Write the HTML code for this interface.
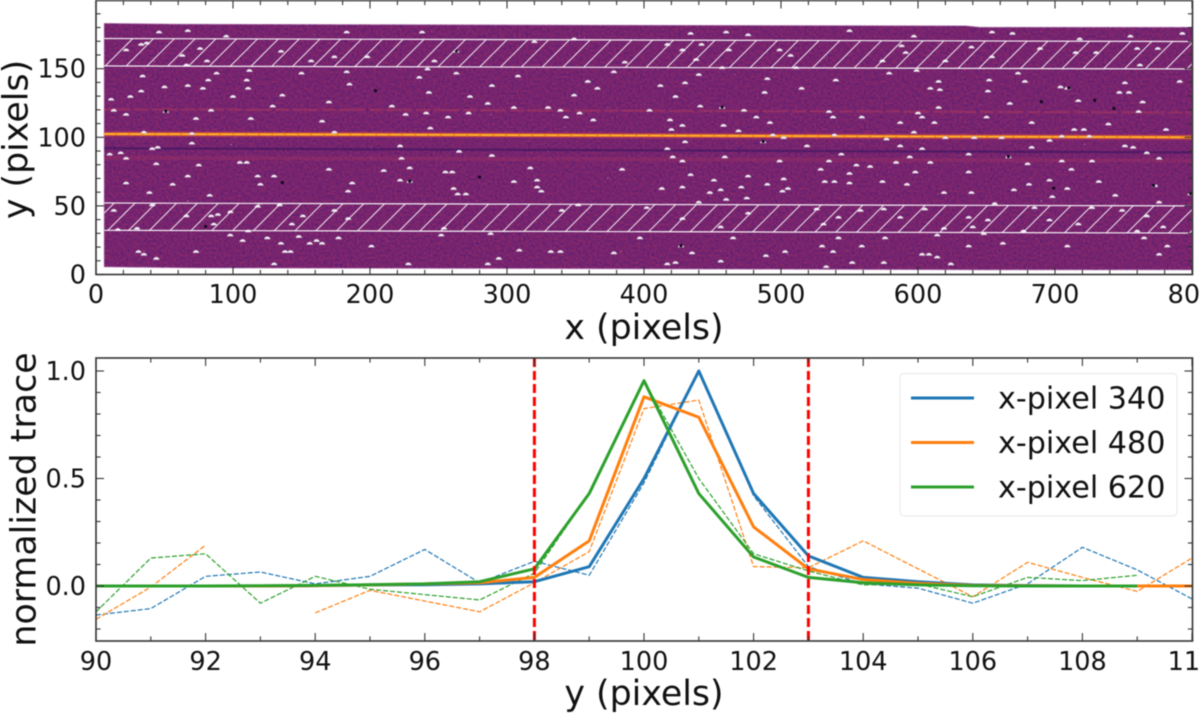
<!DOCTYPE html>
<html>
<head>
<meta charset="utf-8">
<title>Trace chart</title>
<style>
html,body{margin:0;padding:0;background:#fff;width:1200px;height:713px;overflow:hidden}
svg{display:block;filter:blur(0.4px)}
text{font-family:"DejaVu Sans","Liberation Sans",sans-serif;fill:#111}
</style>
</head>
<body>
<svg id="fig" width="1200" height="713" viewBox="0 0 1200 713" xmlns="http://www.w3.org/2000/svg">
  <defs>
    <clipPath id="clip-top"><rect x="96" y="0.5" width="1096.5" height="274"/></clipPath>
    <clipPath id="clip-bottom"><rect x="96" y="358" width="1096.5" height="282.7"/></clipPath>
    <filter id="grain-dark" x="0" y="0" width="100%" height="100%" color-interpolation-filters="sRGB">
      <feTurbulence type="fractalNoise" baseFrequency="0.42" numOctaves="1" seed="7"/>
      <feColorMatrix type="matrix" values="0 0 0 0 0.30  0 0 0 0 0.10  0 0 0 0 0.44  1.5 0 0 0 -0.52"/>
    </filter>
    <filter id="grain-light" x="0" y="0" width="100%" height="100%" color-interpolation-filters="sRGB">
      <feTurbulence type="fractalNoise" baseFrequency="0.42" numOctaves="1" seed="23"/>
      <feColorMatrix type="matrix" values="0 0 0 0 0.62  0 0 0 0 0.18  0 0 0 0 0.40  0 1.5 0 0 -0.55"/>
    </filter>
    <filter id="specks" x="0" y="0" width="100%" height="100%" color-interpolation-filters="sRGB">
      <feTurbulence type="fractalNoise" baseFrequency="0.3" numOctaves="1" seed="41"/>
      <feColorMatrix type="matrix" values="0 0 0 0 0.92  0 0 0 0 0.86  0 0 0 0 0.92  24 0 0 0 -19.2"/>
    </filter>
  </defs>
  <g id="image-panel"></g>
  <g id="trace-panel"></g>
</svg>
<script>
// ---------- top panel data (detector coordinates, pixels) ----------
const edgeX = [6, 60, 350, 635, 645, 800];
const edgeTop = [183, 182.4, 181.8, 181.2, 180.2, 180.2];
const edgeBottomX = [6, 70, 320, 645, 800];
const edgeBottom = [5.6, 4.8, 4.4, 3.4, 3.4];
const traceX = [6, 200, 400, 600, 800];
const traceY = [102.4, 102, 101.3, 100.6, 100];
const faintUpperY = [120.3, 120, 119.3, 118.7, 118];
const darkRowY = [92, 91.3, 90.5, 89.7, 89];
const faintLowerY = [85, 84.5, 84, 83.4, 83];
const bandX = [6, 800];
const upperBandTop = [172, 169.8];
const upperBandBottom = [152, 149.8];
const lowerBandTop = [52.1, 50];
const lowerBandBottom = [32.2, 30.2];
const spotsX = [46,67,95,33,22,37,76,63,81,66,135,157,174,198,34,50,33,25,11,112,88,82,110,150,183,185,67,78,111,100,136,129,170,13,22,51,84,73,113,165,216,35,174,70,10,18,22,41,45,70,44,75,105,110,223,67,118,130,170,210,22,56,120,187,39,83,184,13,66,41,84,89,98,118,134,151,174,184,143,86,16,30,111,98,148,177,107,125,135,156,161,165,201,138,142,31,35,44,73,130,183,
238,263,247,242,236,263,308,289,243,273,286,305,330,349,339,353,343,363,366,378,359,430,412,440,423,441,457,473,488,404,419,428,420,458,482,492,469,494,502,487,430,417,459,428,421,499,226,241,257,272,244,222,265,289,317,255,260,229,229,222,305,322,322,325,261,264,270,384,434,451,476,490,413,428,456,471,502,501,505,448,460,475,440,352,402,340,428,476,456,254,252,288,397,465,427,309,332,339,378,435,503,489,294,286,228,417,423,456,507,462,428,499,476,434,460,442,417,438,386,349,320,457,511,490,
550,597,654,669,718,755,793,689,639,654,715,730,760,775,588,591,574,620,762,599,579,540,615,652,673,678,515,609,616,651,704,709,751,747,754,791,717,667,764,615,535,538,559,600,603,650,761,587,597,612,683,714,721,739,781,539,577,620,641,661,705,725,696,751,757,683,603,587,519,594,535,544,584,609,637,666,680,705,727,767,776,529,555,565,598,637,712,532,539,550,550,574,592,681,696,709,732,773,619,639,670,744,698,776,799,656,727,526,575,587,558,531,542,605,637,651,685,696,749,767,779,760,717,677,640,619,614,648,542,576,530,559,538,603,608,637,662,765,782,776,709,575,552,533,614,624];
const spotsY = [177,178,174,168,164,169,165,160,156,153,163,156,159,159,145,137,134,130,128,149,147,142,142,147,148,139,138,136,136,130,131,123,126,120,117,119,120,114,114,112,123,104,104,103,88,89,85,92,93,96,81,80,82,82,85,72,72,72,77,76,67,66,66,67,60,58,61,47,43,51,43,44,46,50,51,43,47,41,37,37,33,34,32,29,28,27,25,27,23,23,25,23,21,17,17,17,15,12,17,8,177,
177,163,156,150,144,147,145,138,133,130,125,122,122,131,120,118,115,113,136,148,141,140,138,146,130,123,122,120,133,120,113,109,106,109,115,111,105,102,100,97,97,92,86,83,86,83,117,118,115,118,107,94,90,87,78,75,75,78,68,69,68,69,64,61,63,59,59,77,73,69,72,66,63,64,62,64,70,61,63,60,55,56,53,51,49,47,41,45,35,34,29,30,27,27,21,18,17,17,16,16,17,14,12,8,8,8,9,10,160,164,164,164,175,176,177,168,168,157,155,172,170,151,151,143,
178,174,177,176,172,174,176,165,166,159,162,162,165,165,167,162,156,156,153,149,147,142,141,142,147,141,136,136,135,134,137,136,140,133,133,141,127,125,126,122,119,115,115,118,115,115,119,111,104,111,111,106,106,110,106,102,99,100,100,100,101,101,98,94,93,93,92,94,94,86,83,88,82,82,88,86,81,83,83,89,85,77,80,79,75,75,77,68,68,67,74,68,66,66,69,63,68,65,60,60,62,58,57,53,59,52,49,48,48,42,47,37,42,48,42,40,49,40,47,43,35,32,37,32,35,34,29,30,27,27,21,21,17,15,15,21,23,27,21,15,21,9,9,6,13,8];
const darkSpotsX = [51,136,204,80,263,427,229,280,487,457,666,699,772,799,710,729,743,690];
const darkSpotsY = [119,67,134,35,163,21,68,71,97,122,86,63,65,59,136,127,121,126];
// ---------- top panel ticks ----------
const imgXTicks = [0,100,200,300,400,500,600,700,800];
const imgYTicks = [0,50,100,150];

// ---------- bottom panel data ----------
const yPixels = [90,91,92,93,94,95,96,97,98,99,100,101,102,103,104,105,106,107,108,109,110];
const blueModel = [0,0,0,0,0.002,0.005,0.006,0.01,0.02,0.09,0.5,1.0,0.43,0.14,0.04,0.02,0.005,0.002,0,0,0];
const orangeModel = [0,0,0,0,0.002,0.005,0.01,0.015,0.04,0.21,0.88,0.785,0.275,0.08,0.03,0.012,0.003,0.001,0,0,0];
const greenModel = [0,0,0,0.001,0.003,0.006,0.01,0.02,0.08,0.43,0.955,0.43,0.135,0.04,0.015,0.005,0.001,0,0,0,null];
const blueData = [-0.135,-0.105,0.045,0.065,0.01,0.045,0.17,0.015,0.115,0.05,0.48,1.0,0.42,0.09,0.01,-0.01,-0.08,0.01,0.18,0.075,-0.06];
const orangeData = [-0.155,-0.005,0.19,null,-0.125,-0.02,-0.07,-0.12,0.015,0.16,0.825,0.865,0.09,0.085,0.21,0.08,-0.05,0.11,0.04,-0.025,0.13];
const greenData = [-0.12,0.13,0.15,-0.08,0.045,-0.015,-0.04,-0.065,0.06,0.43,0.955,0.5,0.15,0.07,0.005,0.01,-0.05,0.04,0.025,0.05,null];
const apertureLines = [98,103];
const traceXTicks = [90,92,94,96,98,100,102,104,106,108,110];
const traceYTicks = [0,0.5,1];
const legendLabels = ["x-pixel 340","x-pixel 480","x-pixel 620"];
const seriesColors = ["#1f77b4","#ff7f0e","#2ca02c"];

// ---------- axis functions ----------
const imgXs = v => 96 + v * 1.37;
const imgYs = v => 274.5 - v * 1.372;
const trXs = v => 96 + (v - 90) * 54.8;
const trYs = v => 586 - v * 215;

const NS = "http://www.w3.org/2000/svg";
function mk(tag, attrs, parent) {
  const el = document.createElementNS(NS, tag);
  for (const k in attrs) el.setAttribute(k, attrs[k]);
  parent.appendChild(el);
  return el;
}
function pts(xs, ys, fx, fy) {
  return xs.map((x, i) => fx(x).toFixed(2) + "," + fy(ys[i]).toFixed(2)).join(" ");
}

// ---------- top panel ----------
const imgPanel = document.getElementById("image-panel");
const imgLayer = mk("g", {"clip-path": "url(#clip-top)"}, imgPanel);



const outline = edgeX.map((x, i) => imgXs(x).toFixed(1) + "," + imgYs(edgeTop[i]).toFixed(1))
  .concat(edgeBottomX.slice().reverse().map((x, i) => imgXs(x).toFixed(1) + "," + imgYs(edgeBottom[edgeBottom.length - 1 - i]).toFixed(1)))
  .join(" ");
const bg = mk("polygon", {points: outline, fill: "#762470", stroke: "#b47fb4", "stroke-width": 0.8}, imgLayer);


const clipOutline = mk("clipPath", {id: "clip-img"}, imgLayer);
mk("polygon", {points: outline}, clipOutline);
const texture = mk("g", {"clip-path": "url(#clip-img)"}, imgLayer);


mk("rect", {x: 96, y: 0, width: 1100, height: 275, filter: "url(#grain-dark)"}, texture);
mk("rect", {x: 96, y: 0, width: 1100, height: 275, filter: "url(#grain-light)"}, texture);

const faintA = mk("polyline", {points: pts(traceX, faintUpperY, imgXs, imgYs), fill: "none", stroke: "#b03a5c", "stroke-width": 2.4, "stroke-dasharray": "26 4 14 3", opacity: 0.5}, imgLayer);


const faintB = mk("polyline", {points: pts(traceX, faintLowerY, imgXs, imgYs), fill: "none", stroke: "#a83560", "stroke-width": 4, opacity: 0.32}, imgLayer);


const darkRow = mk("polyline", {points: pts(traceX, darkRowY, imgXs, imgYs), fill: "none", stroke: "#36145f", "stroke-width": 2.2, opacity: 0.6}, imgLayer);


const halo = mk("polyline", {points: pts(traceX, traceY, imgXs, imgYs), fill: "none", stroke: "#c8405a", "stroke-width": 5.5, opacity: 0.5}, imgLayer);


const traceLine = mk("polyline", {points: pts(traceX, traceY, imgXs, imgYs), fill: "none", stroke: "#f58a12", "stroke-width": 2.8}, imgLayer);


const traceCore = mk("polyline", {points: pts(traceX, traceY, imgXs, imgYs), fill: "none", stroke: "#fcc04a", "stroke-width": 1, "stroke-dasharray": "11 2"}, imgLayer);



const speckLayer = mk("rect", {x: 96, y: 0, width: 1100, height: 275, filter: "url(#specks)", "clip-path": "url(#clip-img)", opacity: 0.7}, imgLayer);



spotsX.forEach((x, i) => {
  if (spotsY[i] === undefined) return;
  const cx = imgXs(x), cy = imgYs(spotsY[i]);
  const p = mk("path", {d: `M${(cx-3).toFixed(1)} ${(cy+1.6).toFixed(1)}C${(cx-2.6).toFixed(1)} ${(cy-1.8).toFixed(1)} ${(cx+2.6).toFixed(1)} ${(cy-1.8).toFixed(1)} ${(cx+3).toFixed(1)} ${(cy+1.6).toFixed(1)}Z`, fill: "#f4eef3", stroke: "#b9a2bf", "stroke-width": 0.5}, imgLayer);
  
  
});
darkSpotsX.forEach((x, i) => {
  const d = mk("circle", {cx: imgXs(x), cy: imgYs(darkSpotsY[i]), r: 1.6, fill: "#14081f"}, imgLayer);
  
  
});

// hatched background bands
function drawBand(name, tops, bottoms, phase) {
  const g = mk("g", {}, imgLayer);
  
  
  const cid = "clip-" + name;
  const cp = mk("clipPath", {id: cid}, g);
  const xa = imgXs(bandX[0]), xb = imgXs(bandX[1]);
  const ta = imgYs(tops[0]), tb = imgYs(tops[1]), ba = imgYs(bottoms[0]), bb = imgYs(bottoms[1]);
  mk("polygon", {points: `${xa},${ta} ${xb},${tb} ${xb},${bb} ${xa},${ba}`}, cp);
  const hg = mk("g", {"clip-path": `url(#${cid})`, stroke: "#fff", "stroke-width": 1, opacity: 0.9}, g);
  const h = 34;
  for (let x0 = phase; x0 < 1210; x0 += 20.8) {
    const ln = mk("line", {x1: x0 - 3, y1: ba + 3 + (x0 - xa) / (xb - xa) * (bb - ba), x2: x0 + h, y2: ba - h + (x0 - xa) / (xb - xa) * (bb - ba)}, hg);
    
    
  }
  const e1 = mk("line", {x1: xa, y1: ta, x2: xb, y2: tb, stroke: "#fff", "stroke-width": 1.2, opacity: 0.92}, g);
  
  
  const e2 = mk("line", {x1: xa, y1: ba, x2: xb, y2: bb, stroke: "#fff", "stroke-width": 1.2, opacity: 0.92}, g);
  
  
}
drawBand("upper-background-band", upperBandTop, upperBandBottom, 105.3);
drawBand("lower-background-band", lowerBandTop, lowerBandBottom, 87);

// generic tick drawing
function drawTick(parent, x1, y1, x2, y2, name) {
  const t = mk("line", {x1, y1, x2, y2, stroke: "#333", "stroke-width": 1.1}, parent);
  
  
}
function drawLabel(parent, x, y, txt, size, anchor, name) {
  const t = mk("text", {x, y, "font-size": size, "text-anchor": anchor}, parent);
  t.textContent = txt;
  
  
  return t;
}
function drawFrame(parent, l, t, r, b, name) {
  const f = mk("rect", {x: l, y: t, width: r - l, height: b - t, fill: "none", stroke: "#333", "stroke-width": 1.6}, parent);
  
  
}

const axL = 96, axR = 1192.5, T1 = 0.5, B1 = 274.5;
drawFrame(imgPanel, axL, T1, axR, B1, "image-axes-frame");
for (let v = 0; v <= 800; v += 20) {
  const len = v % 100 === 0 ? 8 : 4.6, x = imgXs(v);
  drawTick(imgPanel, x, B1, x, B1 - len, "x-tick");
  drawTick(imgPanel, x, T1, x, T1 + len, "x-tick-top");
}
for (let v = 0; v <= 190; v += 10) {
  const len = v % 50 === 0 ? 8 : 4.6, y = imgYs(v);
  drawTick(imgPanel, axL, y, axL + len, y, "y-tick");
  drawTick(imgPanel, axR, y, axR - len, y, "y-tick-right");
}
imgXTicks.forEach(v => drawLabel(imgPanel, imgXs(v), 303, String(v), 25.5, "middle", "x-tick-label"));
imgYTicks.forEach(v => drawLabel(imgPanel, 86, imgYs(v) + 9, String(v), 25.5, "end", "y-tick-label"));
drawLabel(imgPanel, 644, 339, "x (pixels)", 34.8, "middle", "x-axis-title");
const yt1 = drawLabel(imgPanel, 0, 0, "y (pixels)", 34.8, "middle", "y-axis-title");
yt1.setAttribute("transform", "translate(27.5,139.5) rotate(-90)");

// ---------- bottom panel ----------
const botPanel = document.getElementById("trace-panel");
const plotArea = mk("g", {"clip-path": "url(#clip-bottom)"}, botPanel);



function segments(values) {
  const out = [];
  let cur = [];
  values.forEach((v, i) => {
    if (v === null) { if (cur.length) out.push(cur); cur = []; }
    else cur.push(trXs(yPixels[i]).toFixed(2) + "," + trYs(v).toFixed(2));
  });
  if (cur.length) out.push(cur);
  return out.map(s => s.join(" "));
}
[blueData, orangeData, greenData].forEach((vals, i) => {
  segments(vals).forEach(p => {
    const l = mk("polyline", {points: p, fill: "none", stroke: seriesColors[i], "stroke-width": 1.2, "stroke-dasharray": "5 2", "stroke-linejoin": "round"}, plotArea);
    
    
  });
});
[blueModel, orangeModel, greenModel].forEach((vals, i) => {
  segments(vals).forEach(p => {
    const l = mk("polyline", {points: p, fill: "none", stroke: seriesColors[i], "stroke-width": 3, "stroke-linejoin": "round"}, plotArea);
    
    
  });
});
apertureLines.forEach(v => {
  const a = mk("line", {x1: trXs(v), x2: trXs(v), y1: 358, y2: 641, stroke: "#ff0000", "stroke-width": 3, "stroke-dasharray": "9 4"}, plotArea);
  
  
});

const T2 = 358, B2 = 641;
drawFrame(botPanel, axL, T2, axR, B2, "trace-axes-frame");
for (let v = 90; v <= 110; v += 1) {
  const len = v % 2 === 0 ? 8 : 4.6, x = trXs(v);
  drawTick(botPanel, x, B2, x, B2 - len, "x-tick");
  drawTick(botPanel, x, T2, x, T2 + len, "x-tick-top");
}
for (let k = -2; k <= 10; k += 1) {
  const len = k % 5 === 0 ? 8 : 4.6, y = trYs(k / 10);
  drawTick(botPanel, axL, y, axL + len, y, "y-tick");
  drawTick(botPanel, axR, y, axR - len, y, "y-tick-right");
}
traceXTicks.forEach(v => drawLabel(botPanel, trXs(v), 670, String(v), 25.5, "middle", "x-tick-label"));
traceYTicks.forEach(v => drawLabel(botPanel, 86, trYs(v) + 9, v.toFixed(1), 25.5, "end", "y-tick-label"));
drawLabel(botPanel, 644, 705, "y (pixels)", 34.8, "middle", "x-axis-title");
const yt2 = drawLabel(botPanel, 0, 0, "normalized trace", 34.8, "middle", "y-axis-title");
yt2.setAttribute("transform", "translate(35.5,499.5) rotate(-90)");

// legend
const legendGroup = mk("g", {}, botPanel);


const legendBox = mk("rect", {x: 900, y: 373.5, width: 277, height: 142.5, rx: 4, fill: "#fff", "fill-opacity": 0.8, stroke: "#e6e6e6", "stroke-width": 1}, legendGroup);


legendLabels.forEach((txt, i) => {
  const y = 398 + i * 44.5;
  const s = mk("line", {x1: 911, x2: 974, y1: y, y2: y, stroke: seriesColors[i], "stroke-width": 3}, legendGroup);
  
  
  drawLabel(legendGroup, 998, y + 10.5, txt, 30.2, "start", "legend-entry");
});
</script>
</body>
</html>
